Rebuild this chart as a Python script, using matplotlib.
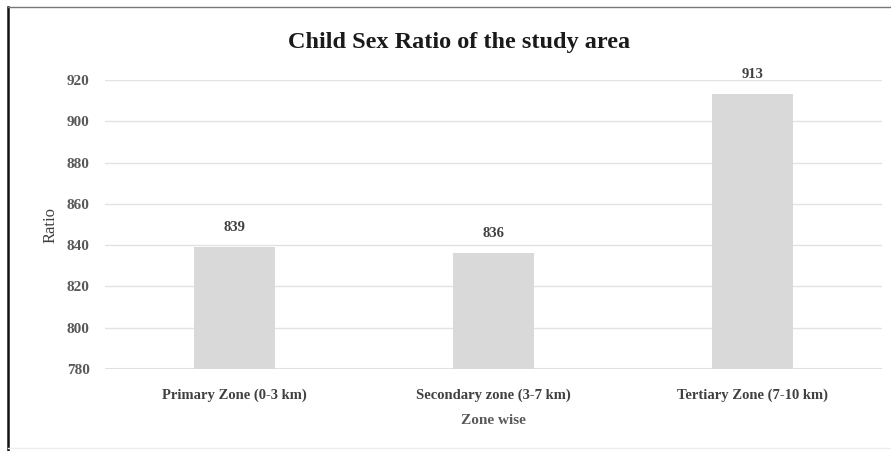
import matplotlib.pyplot as plt
from matplotlib.lines import Line2D

# data
zones = ['Primary Zone (0-3 km)', 'Secondary zone (3-7 km)', 'Tertiary Zone (7-10 km)']
ratios = [839, 836, 913]
y_ticks = [780, 800, 820, 840, 860, 880, 900, 920]

plt.rcParams['font.family'] = ['Liberation Serif', 'DejaVu Serif']

fig = plt.figure(figsize=(8.91, 4.51), dpi=100)
ax = fig.add_axes([0.1178, 0.1818, 0.8721, 0.6408])

x = range(len(zones))
ax.bar(x, [r - 780 for r in ratios], bottom=780, width=0.31, color='#d9d9d9', zorder=2)

for xi, r in zip(x, ratios):
    ax.text(xi, r + 6.5, str(r), ha='center', va='bottom', fontsize=10.5,
            fontweight='bold', color='#404040')

ax.set_xlim(-0.5, 2.5)
ax.set_ylim(780, 920)
ax.set_yticks(y_ticks)
ax.set_yticklabels([str(t) for t in y_ticks], fontsize=11, fontweight='bold', color='#595959')
ax.set_xticks(list(x))
ax.set_xticklabels(zones, fontsize=10.5, fontweight='bold', color='#404040')
ax.tick_params(axis='y', length=0, pad=11)
ax.tick_params(axis='x', length=0, pad=14)
ax.grid(axis='y', color='#e3e3e3', linewidth=1, zorder=0)
for s in ax.spines.values():
    s.set_visible(False)
ax.axhline(780, color='#e0e0e0', linewidth=1.5, zorder=1)

ax.set_xlabel('Zone wise', fontsize=11, fontweight='bold', color='#595959', labelpad=9)
ax.set_ylabel('Ratio', fontsize=12, color='#404040', labelpad=6)

fig.text(0.515, 0.905, 'Child Sex Ratio of the study area', ha='center', va='center',
         fontsize=17.5, fontweight='bold', color='#1a1a1a')

# outer frame of the pasted chart
fig.add_artist(Line2D([0.009, 0.009], [0.0, 0.985], color='#111111', linewidth=1.8))
fig.add_artist(Line2D([0.009, 1.0], [0.985, 0.985], color='#777777', linewidth=1.0))
fig.add_artist(Line2D([0.009, 1.0], [0.007, 0.007], color='#eeeeee', linewidth=1.0))

fig.savefig('out.png', dpi=100)
